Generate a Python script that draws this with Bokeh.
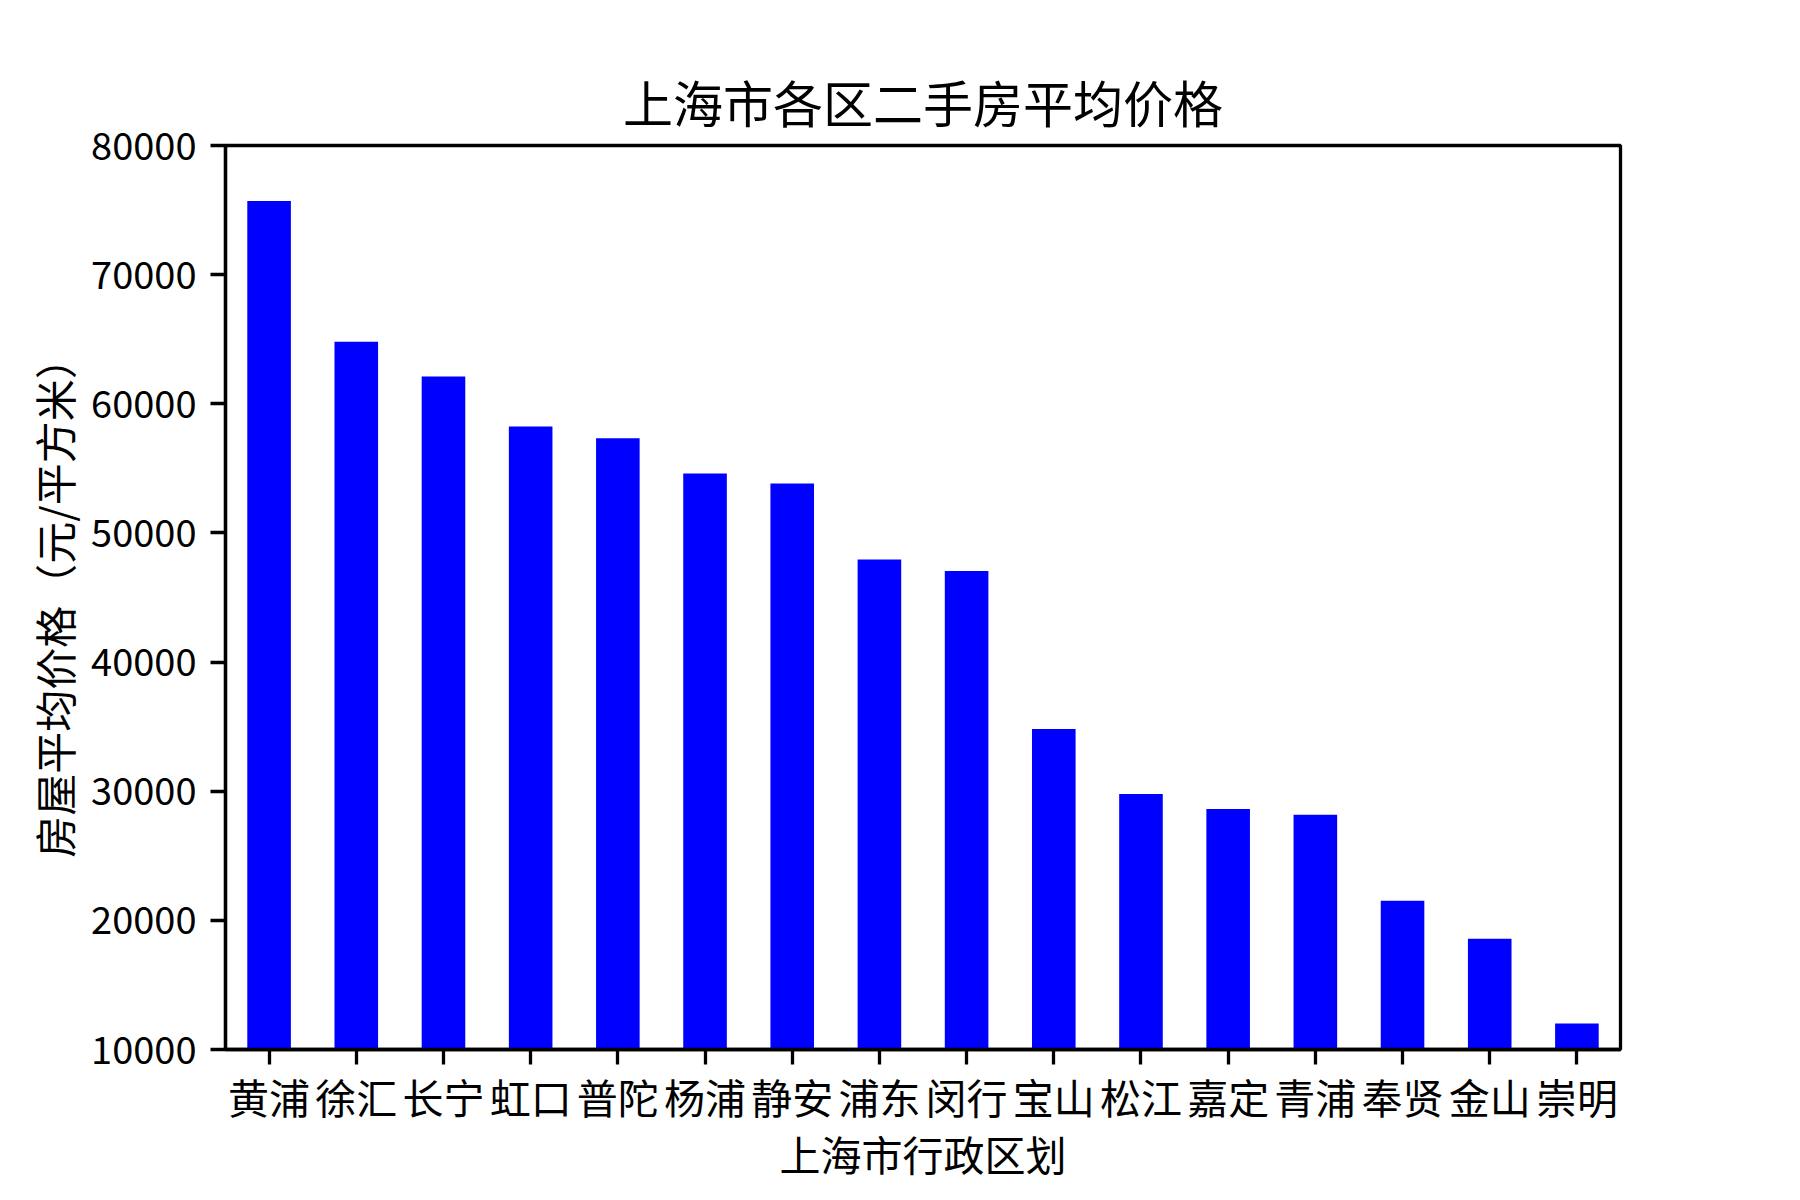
from bokeh.plotting import figure
from bokeh.models import FactorRange, Range1d, FixedTicker, NumeralTickFormatter, ColumnDataSource
from bokeh.embed import file_html
from bokeh.resources import INLINE

districts = ["黄浦", "徐汇", "长宁", "虹口", "普陀", "杨浦", "静安", "浦东",
             "闵行", "宝山", "松江", "嘉定", "青浦", "奉贤", "金山", "崇明"]
prices = [75700, 64810, 62120, 58240, 57330, 54610, 53820, 47950,
          47050, 34820, 29780, 28620, 28170, 21510, 18580, 12010]
y_ticks = [10000, 20000, 30000, 40000, 50000, 60000, 70000, 80000]

FONT = "Noto Sans CJK SC"
LW = 3.3

src = ColumnDataSource(dict(d=districts, v=prices))

p = figure(x_range=FactorRange(*districts), y_range=Range1d(10000, 80000),
           frame_width=1395, frame_height=904,
           min_border_left=225, min_border_right=164,
           min_border_top=145, min_border_bottom=135,
           output_backend="svg", toolbar_location=None,
           title="上海市各区二手房平均价格")

p.vbar(x="d", top="v", bottom=0, width=0.5, source=src,
       fill_color="#0000ff", line_color=None)

p.title.text_font = FONT
p.title.text_font_size = "50px"
p.title.text_font_style = "normal"
p.title.align = "center"
p.title.text_color = "black"
p.title.standoff = 18

p.xgrid.visible = False
p.ygrid.visible = False
p.outline_line_color = "black"
p.outline_line_width = LW
p.outline_line_alpha = 1.0
p.background_fill_color = "white"
p.border_fill_color = "white"

for ax in (p.xaxis[0], p.yaxis[0]):
    ax.axis_line_width = LW
    ax.axis_line_color = "black"
    ax.major_tick_line_width = LW
    ax.major_tick_line_color = "black"
    ax.major_tick_out = 15
    ax.major_tick_in = 0
    ax.minor_tick_line_color = None
    ax.major_label_text_font = FONT
    ax.major_label_text_color = "black"
    ax.axis_label_text_font = FONT
    ax.axis_label_text_font_style = "normal"
    ax.axis_label_text_font_size = "41px"
    ax.axis_label_text_color = "black"

p.xaxis.axis_label = "上海市行政区划"
p.xaxis.major_label_text_font_size = "41px"
p.xaxis.major_label_standoff = 1
p.xaxis.axis_label_standoff = -6
p.xaxis.group_text_font_size = "0px"

p.yaxis.axis_label = "房屋平均价格（元/平方米）"
p.yaxis.axis_label_text_font_size = "42px"
p.yaxis.ticker = FixedTicker(ticks=y_ticks)
p.yaxis.formatter = NumeralTickFormatter(format="0")
p.yaxis.major_label_text_font_size = "38px"
p.yaxis.major_label_standoff = 14
p.yaxis.axis_label_standoff = 4

open("out.html", "w").write(file_html(p, INLINE))
